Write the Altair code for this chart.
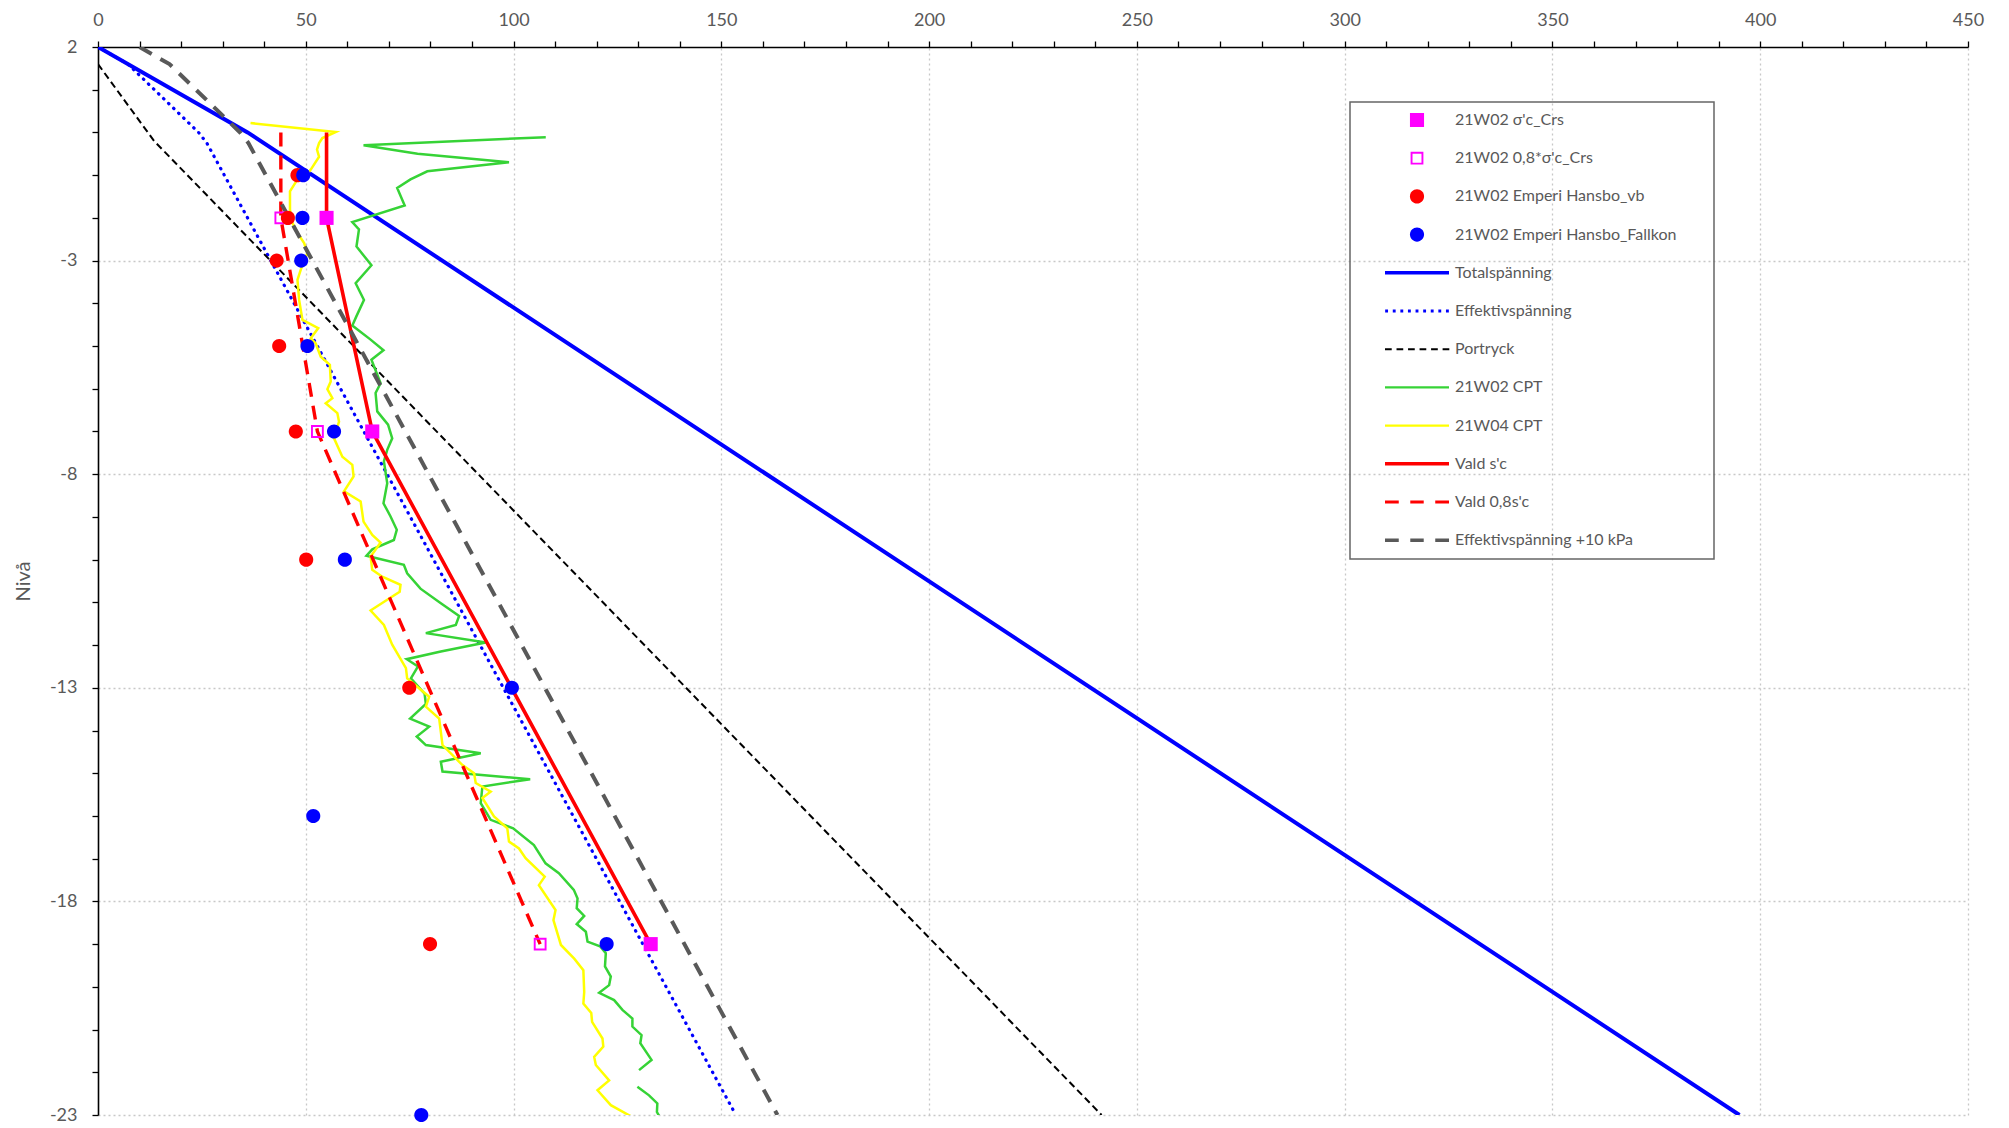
import altair as alt
import pandas as pd

# ---------------- data ----------------
SERIES = [
    "21W02 σ'c_Crs",
    "21W02 0,8*σ'c_Crs",
    "21W02 Emperi Hansbo_vb",
    "21W02 Emperi Hansbo_Fallkon",
    "Totalspänning",
    "Effektivspänning",
    "Portryck",
    "21W02 CPT",
    "21W04 CPT",
    "Vald s'c",
    "Vald 0,8s'c",
    "Effektivspänning +10 kPa",
]
COLORS = ["#FF00FF", "#FF00FF", "#FF0000", "#0000FF", "#0000FF", "#0000FF",
          "#000000", "#36D336", "#FFFF00", "#FF0000", "#FF0000", "#595959"]

CRS_X = [55, 66, 133]
CRS_Y = [-2, -7, -19]
CRS08_X = [44, 52.8, 106.4]
CRS08_Y = [-2, -7, -19]
VB_X = [48.0, 45.7, 43.0, 43.6, 47.6, 50.1, 74.9, 79.9]
VB_Y = [-1, -2, -3, -5, -7, -10, -13, -19]
FK_X = [49.4, 49.2, 48.9, 50.4, 56.8, 59.4, 99.6, 51.8, 122.4, 77.8]
FK_Y = [-1, -2, -3, -5, -7, -10, -13, -16, -19, -23]

TOT_X = [0, 36, 395]
TOT_Y = [2, 0, -23]
EFF_X = [0, 7.2, 24.2, 26.2, 153.5]
EFF_Y = [2, 1.6, 0, -0.25, -23]
POR_X = [0, 13.5, 241.5]
POR_Y = [1.6, -0.2, -23]
EFF10_X = [10, 17.2, 34.2, 36.2, 163.5]
EFF10_Y = [2, 1.6, 0, -0.25, -23]
VALD_X = [55, 55, 66, 133]
VALD_Y = [0, -2, -7, -19]
VALD08_X = [44, 44, 52.8, 106.4]
VALD08_Y = [0, -2, -7, -19]

CPT02_X = [107.75, 63.9, 76.9, 98.9, 79.25, 75.2, 72.0, 73.8, 61.2, 62.8, 62.2, 65.8, 62.0, 64.0,
           62.2, 61.2, 65.6, 68.7, 65.8, 68.0, 66.8, 67.2, 69.8, 70.8, 69.6, 68.8, 69.6, 68.7,
           70.4, 71.9, 71.2, 66.0, 64.6, 73.6, 74.4, 77.6, 82.5, 86.9, 86.1, 78.9, 93.3, 82.5,
           74.3, 77.0, 75.3, 78.6, 78.9, 75.1, 79.7, 76.7, 78.9, 92.1, 82.5, 82.9, 104.0, 92.5,
           92.1, 94.5, 99.9, 104.9, 107.7, 110.9, 114.5, 115.4, 115.2, 117.0, 115.2, 117.4,
           117.8, 120.8, 122.2, 122.0, 123.4, 123.0, 120.6, 124.2, 126.2, 128.6, 128.6, 130.8,
           130.5, 133.2, 130.2,
           129.8, 132.6, 134.6, 134.5, 135.2]
CPT02_Y = [-0.11, -0.30, -0.50, -0.70, -0.91, -1.10, -1.30, -1.71, -2.10, -2.27, -2.67, -3.11, -3.53, -3.92,
           -4.30, -4.52, -4.85, -5.10, -5.32, -5.87, -6.10, -6.53, -6.84, -7.16, -7.43, -7.70, -8.21, -8.68,
           -8.99, -9.30, -9.54, -9.76, -9.91, -10.12, -10.32, -10.68, -11.02, -11.32, -11.53, -11.72, -11.94, -12.15,
           -12.33, -12.50, -12.78, -13.14, -13.38, -13.72, -13.91, -14.14, -14.34, -14.53, -14.73, -14.96, -15.14, -15.31,
           -15.70, -16.09, -16.29, -16.68, -17.11, -17.34, -17.73, -17.93, -18.16, -18.34, -18.53, -18.71,
           -18.94, -19.05, -19.21, -19.52, -19.76, -19.96, -20.14, -20.31, -20.54, -20.74, -20.93, -21.13,
           -21.32, -21.71, -21.95,
           -22.34, -22.54, -22.73, -22.93, -23.05]
CPT02_SEG = [1] * 83 + [2] * 5

CPT04_X = [36.7, 57.2, 54.0, 53.2, 52.7, 53.2, 51.2, 50.0, 48.0, 46.2, 46.2, 46.8, 48.0, 49.6, 50.4,
           48.8, 48.0, 48.4, 49.2, 53.0, 51.2, 52.4, 53.6, 55.8, 56.0, 55.2, 56.4, 54.8, 57.6, 58.0,
           56.8, 58.8, 61.2, 61.5, 59.2, 63.2, 63.9, 66.0, 68.0, 65.6, 66.0, 68.4, 72.8, 72.6, 69.6,
           65.6, 68.8, 70.8, 74.1, 74.4, 79.7, 78.9, 82.1, 82.9, 87.7, 90.5, 90.9, 94.5, 92.5, 95.3,
           98.5, 98.9, 101.3, 102.9, 107.5, 106.1, 110.1, 109.6, 111.4, 114.6, 116.8, 117.0, 116.8,
           118.7, 118.9, 121.4, 121.6, 119.4, 119.8, 123.0, 120.2, 123.4, 128.6]
CPT04_Y = [0.22, 0.01, -0.13, -0.25, -0.40, -0.57, -0.87, -1.03, -1.10, -1.38, -1.81, -2.12, -2.35, -2.59, -2.82,
           -3.21, -3.45, -3.92, -4.39, -4.58, -4.82, -4.94, -5.25, -5.44, -5.83, -6.01, -6.22, -6.34, -6.57, -6.77,
           -7.16, -7.59, -7.78, -8.05, -8.40, -8.64, -9.11, -9.42, -9.60, -9.93, -10.24, -10.40, -10.59, -10.75, -10.94,
           -11.19, -11.53, -11.99, -12.54, -12.78, -13.21, -13.44, -13.72, -14.34, -14.81, -15.00, -15.23, -15.43, -15.58, -16.01,
           -16.29, -16.60, -16.76, -16.99, -17.42, -17.62, -18.20, -18.44, -19.02, -19.34, -19.61, -20.12, -20.39,
           -20.61, -20.82, -21.21, -21.40, -21.64, -21.83, -22.19, -22.42, -22.77, -23.05]

X_TICKS = list(range(0, 451, 10))
Y_TICKS = list(range(2, -24, -1))


# ---------------- legend / point symbol shapes (unit coordinates) ----------------
def bar(x0, x1, h):
    return f"M{x0:.3f},{-h:.3f}H{x1:.3f}V{h:.3f}H{x0:.3f}Z"


def dashes(pieces, h):
    return "".join(bar(a, b, h) for a, b in pieces)


SQ = bar(-0.22, 0.22, 0.22)
OPEN_SQ = bar(-0.2, 0.2, 0.2) + "M-0.14,-0.14V0.14H0.14V-0.14Z"
CIRCLE = "M0.22,0A0.22,0.22,0,1,1,-0.22,0A0.22,0.22,0,1,1,0.22,0Z"
DOTS = dashes([(-0.95 + i * 0.2375 - 0.045, -0.95 + i * 0.2375 + 0.045) for i in range(9)], 0.047)
SHORT_DASH = dashes([(-1 + i * 0.36, -1 + i * 0.36 + 0.21) for i in range(6)], 0.03)
LONG_DASH = [(-1, -0.57), (-0.21, 0.21), (0.57, 1)]
SHAPES = [SQ, OPEN_SQ, CIRCLE, CIRCLE, bar(-1, 1, 0.055), DOTS, SHORT_DASH,
          bar(-1, 1, 0.035), bar(-1, 1, 0.035), bar(-1, 1, 0.055),
          dashes(LONG_DASH, 0.05), dashes(LONG_DASH, 0.055)]

# ---------------- tables ----------------
def line_df(name, xs, ys, segs=None):
    return pd.DataFrame({
        "x": xs, "y": ys, "series": name,
        "ord": list(range(len(xs))),
        "seg": segs if segs is not None else [1] * len(xs),
    })


pts = pd.concat([
    pd.DataFrame({"x": CRS_X, "y": CRS_Y, "series": SERIES[0]}),
    pd.DataFrame({"x": CRS08_X, "y": CRS08_Y, "series": SERIES[1]}),
    pd.DataFrame({"x": VB_X, "y": VB_Y, "series": SERIES[2]}),
    pd.DataFrame({"x": FK_X, "y": FK_Y, "series": SERIES[3]}),
], ignore_index=True)

# ---------------- encodings ----------------
LABEL_FONT = "Lato"
GRAY = "#595959"
GRID = "#c8c8c8"

x_enc = alt.X(
    "x:Q",
    scale=alt.Scale(domain=[0, 450], nice=False, zero=False),
    axis=alt.Axis(
        orient="top", values=X_TICKS, title=None,
        labelExpr="datum.value % 50 === 0 ? datum.label : ''",
        labelFont=LABEL_FONT, labelFontSize=18, labelColor=GRAY, labelPadding=12,
        labelFlush=False, labelOverlap=False,
        tickColor="black", tickSize=6, tickWidth=1.3,
        domainColor="black", domainWidth=1.6,
        grid=True, gridColor=GRID, gridDash=[2, 3], gridWidth=1.3,
        gridOpacity={"condition": {"test": "datum.value % 50 === 0 && datum.value > 0", "value": 1}, "value": 0},
    ),
)
y_enc = alt.Y(
    "y:Q",
    scale=alt.Scale(domain=[-23, 2], nice=False, zero=False),
    axis=alt.Axis(
        values=Y_TICKS, title="Nivå",
        labelExpr="(2 - datum.value) % 5 === 0 ? '' + datum.value : ''",
        labelFont=LABEL_FONT, labelFontSize=18, labelColor=GRAY, labelPadding=15,
        labelFlush=False, labelOverlap=False,
        titleFont=LABEL_FONT, titleFontSize=20, titleColor=GRAY, titleFontWeight="normal",
        titlePadding=16,
        tickColor="black", tickSize=6, tickWidth=1.3,
        domainColor="black", domainWidth=1.6,
        grid=True, gridColor=GRID, gridDash=[2, 3], gridWidth=1.3,
        gridOpacity={"condition": {"test": "(2 - datum.value) % 5 === 0 && datum.value < 2", "value": 1}, "value": 0},
    ),
)
# line series get their own stroke scale (a different domain, so no legend merging)
stroke_scale = alt.Scale(domain=SERIES[4:], range=COLORS[4:])
color_scale = alt.Scale(domain=SERIES, range=COLORS)
shape_scale = alt.Scale(domain=SERIES, range=SHAPES)

legend = alt.Legend(
    title=" ", titleOrient="right", titlePadding=30, titleFontSize=16,
    orient="none", legendX=1252, legendY=55,
    symbolSize=4096, clipHeight=20, rowPadding=18.2, padding=8,
    symbolOffset=27, labelOffset=6, symbolStrokeWidth=0,
    strokeColor="#666666",
    labelFont=LABEL_FONT, labelFontSize=16, labelColor=GRAY, labelLimit=500,
)

line_specs = [
    (SERIES[4], TOT_X, TOT_Y, None, dict(strokeWidth=4)),
    (SERIES[5], EFF_X, EFF_Y, None, dict(strokeWidth=3.2, strokeDash=[0.5, 6.5], strokeCap="round")),
    (SERIES[6], POR_X, POR_Y, None, dict(strokeWidth=2, strokeDash=[7, 4])),
    (SERIES[7], CPT02_X, CPT02_Y, CPT02_SEG, dict(strokeWidth=2.5)),
    (SERIES[8], CPT04_X, CPT04_Y, None, dict(strokeWidth=2.5)),
    (SERIES[9], VALD_X, VALD_Y, None, dict(strokeWidth=3.6)),
    (SERIES[10], VALD08_X, VALD08_Y, None, dict(strokeWidth=3.4, strokeDash=[14, 9])),
    (SERIES[11], EFF10_X, EFF10_Y, None, dict(strokeWidth=4, strokeDash=[14, 10])),
]

points = alt.Chart(pts).mark_point(filled=True, size=4096, opacity=1, strokeWidth=0, clip=False).encode(
    x=x_enc, y=y_enc,
    color=alt.Color("series:N", scale=color_scale, legend=legend),
    shape=alt.Shape("series:N", scale=shape_scale, legend=legend),
)

layers = []
for name, xs, ys, segs, style in line_specs:
    layers.append(
        alt.Chart(line_df(name, xs, ys, segs)).mark_line(clip=True, **style).encode(
            x=x_enc, y=y_enc,
            stroke=alt.Stroke("series:N", scale=stroke_scale, legend=None),
            order="ord:Q",
            detail="seg:N",
        )
    )
layers.append(points)

chart = alt.layer(*layers).properties(
    width=1870, height=1068,
    padding={"left": 5, "top": 3, "right": 5, "bottom": 0},
).configure_view(stroke=None).configure_legend(strokeWidth=1.5)

chart.save("out.html", embed_options={"renderer": "svg", "actions": False})
